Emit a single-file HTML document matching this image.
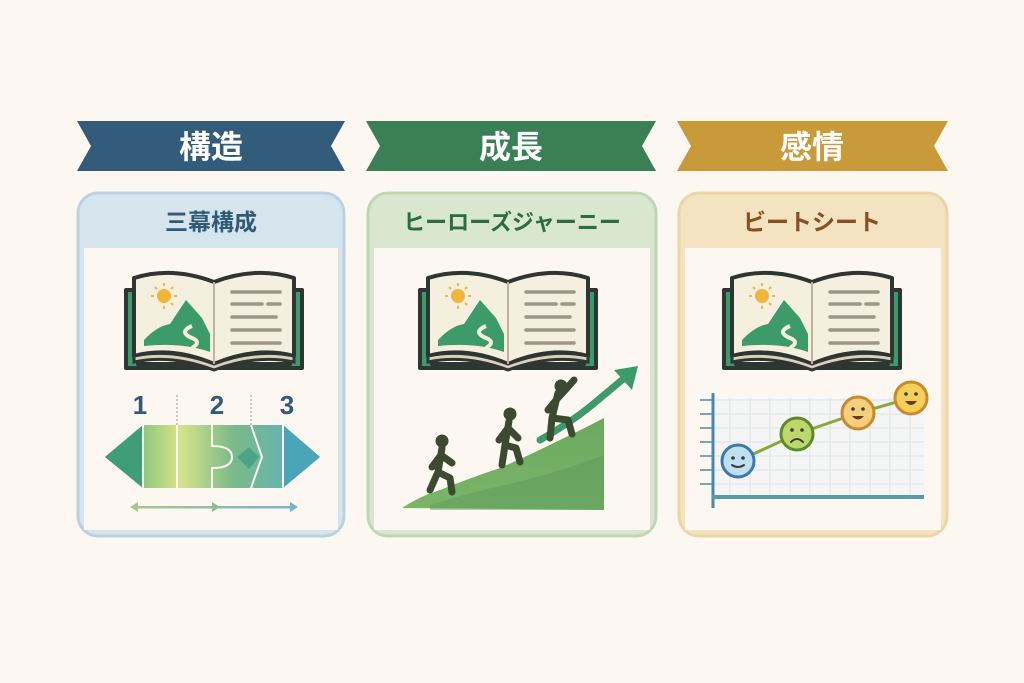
<!DOCTYPE html>
<html><head><meta charset="utf-8"><style>
html,body{margin:0;padding:0;background:#fcf8f1;}
svg{display:block}
text{font-family:"Liberation Sans","Noto Sans CJK JP",sans-serif;font-weight:bold}
</style></head><body>
<svg width="1024" height="683" viewBox="0 0 1024 683" xmlns="http://www.w3.org/2000/svg">
<defs>
<g id="book">
  <path d="M4 22 L16 22 L16 96 L168 96 L168 22 L180 22 L180 100 L4 100 Z" fill="#3d9a6a" stroke="#2e3532" stroke-width="4" stroke-linejoin="round"/>
  <path d="M12 10 Q50 -2 92 14 Q134 -2 172 10 L172 88 Q134 78 92 96 Q50 78 12 88 Z" fill="#f5efe0" stroke="#2e3532" stroke-width="4" stroke-linejoin="round"/>
  <path d="M12 88 Q50 80 92 96 Q134 80 172 88 L172 94 Q134 86 92 102 Q50 86 12 94 Z" fill="#d9d0bd" stroke="#2e3532" stroke-width="3"/>
  <line x1="92" y1="14" x2="92" y2="96" stroke="#bdb4a2" stroke-width="2"/>
  <circle cx="42" cy="28" r="7" fill="#f2b53a"/>
  <g stroke="#f2b53a" stroke-width="2"><line x1="42" y1="15" x2="42" y2="18"/><line x1="42" y1="38" x2="42" y2="41"/><line x1="29" y1="28" x2="32" y2="28"/><line x1="52" y1="28" x2="55" y2="28"/><line x1="33" y1="19" x2="35" y2="21"/><line x1="49" y1="35" x2="51" y2="37"/><line x1="51" y1="19" x2="49" y2="21"/></g>
  <path d="M22 72 Q35 58 48 56 L64 32 L80 50 L88 66 L88 84 Q60 74 22 78 Z" fill="#3d9a6a"/>
  <path d="M70 58 Q56 64 70 70 Q80 74 70 80" stroke="#f5efe0" stroke-width="4" fill="none"/>
  <g stroke="#9c968a" stroke-width="3.5" stroke-linecap="round"><line x1="110" y1="24" x2="158" y2="24"/><line x1="110" y1="36" x2="140" y2="36"/><line x1="146" y1="36" x2="158" y2="36"/><line x1="110" y1="49" x2="154" y2="49"/><line x1="110" y1="62" x2="158" y2="62"/><line x1="110" y1="75" x2="158" y2="75"/></g>
</g>
<linearGradient id="gb" x1="0" x2="1"><stop offset="0" stop-color="#4aa870"/><stop offset=".35" stop-color="#d6e48a"/><stop offset=".6" stop-color="#79b98a"/><stop offset="1" stop-color="#5ab0c8"/></linearGradient>
<linearGradient id="ga" gradientUnits="userSpaceOnUse" x1="130" y1="0" x2="298" y2="0"><stop offset="0" stop-color="#a8c78a"/><stop offset="1" stop-color="#7fb0cc"/></linearGradient>
<linearGradient id="gh" x1="0" y1="0" x2="0" y2="1"><stop offset="0" stop-color="#6aa85e"/><stop offset="1" stop-color="#7cb56a"/></linearGradient>
</defs>

<!-- banners -->
<path d="M77 121 L345 121 L331 146 L345 171 L77 171 L91 146 Z" fill="#335c7a"/>
<text x="211" y="158" font-size="32" fill="#fff" text-anchor="middle">構造</text>
<path d="M366 121 L656 121 L642 146 L656 171 L366 171 L380 146 Z" fill="#3b7f57"/>
<text x="511" y="158" font-size="32" fill="#fff" text-anchor="middle">成長</text>
<path d="M677 121 L948 121 L934 146 L948 171 L677 171 L691 146 Z" fill="#c99a3a"/>
<text x="812" y="158" font-size="32" fill="#fff" text-anchor="middle">感情</text>

<!-- cards -->
<rect x="78" y="193" width="266" height="343" rx="20" fill="#d5e4ed" stroke="#bad2e1" stroke-width="3"/>
<rect x="84" y="248" width="254" height="282" fill="#fcf8f1"/>
<text x="211" y="230" font-size="23" fill="#2f5a78" text-anchor="middle">三幕構成</text>

<rect x="368" y="193" width="288" height="343" rx="20" fill="#d9e7d0" stroke="#c0d7b6" stroke-width="3"/>
<rect x="374" y="248" width="276" height="282" fill="#fcf8f1"/>
<text x="512" y="230" font-size="22" fill="#2b6c45" text-anchor="middle">ヒーローズジャーニー</text>

<rect x="679" y="193" width="268" height="343" rx="20" fill="#f4e3c0" stroke="#ecd6a6" stroke-width="3"/>
<rect x="685" y="248" width="256" height="282" fill="#fcf8f1"/>
<text x="812" y="230" font-size="23" fill="#8a4f1e" text-anchor="middle">ビートシート</text>

<use href="#book" x="122" y="268"/>
<use href="#book" x="416" y="268"/>
<use href="#book" x="720" y="268"/>

<!-- card1 bar -->
<text x="140" y="414" font-size="26" fill="#2f5a78" text-anchor="middle">1</text>
<text x="217" y="414" font-size="26" fill="#2f5a78" text-anchor="middle">2</text>
<text x="287" y="414" font-size="26" fill="#2f5a78" text-anchor="middle">3</text>
<line x1="177" y1="395" x2="177" y2="425" stroke="#999" stroke-dasharray="2 2"/>
<line x1="251" y1="395" x2="251" y2="425" stroke="#999" stroke-dasharray="2 2"/>
<path d="M105 457 L143 425 L283 425 L320 457 L283 488 L143 488 Z" fill="url(#gb)"/>
<path d="M105 457 L143 425 L143 488 Z" fill="#3f9e77"/>
<path d="M283 425 L320 457 L283 488 Z" fill="#4aa5b8"/>
<g stroke="#fcf8f1" stroke-width="2" fill="none"><line x1="143" y1="425" x2="143" y2="488"/><line x1="177" y1="425" x2="177" y2="488"/><path d="M212 425 L212 446 Q232 446 232 457 Q232 468 212 468 L212 488"/><path d="M251 425 L262 457 L251 488"/><line x1="283" y1="425" x2="283" y2="488"/></g>
<path d="M237 457 L249 447 L259 457 L249 469 Z" fill="#4aa587"/>
<rect x="132" y="506" width="164" height="2.5" fill="url(#ga)"/>
<path d="M130 507 L138 502 L138 512 Z" fill="#a8c78a"/>
<path d="M220 507 L212 502 L212 512 Z" fill="#92bc96"/>
<path d="M298 507 L290 502 L290 512 Z" fill="#7fb0cc"/>

<!-- card2 hill -->
<path d="M402 508 Q420 496 440 490 Q470 478 500 468 Q530 455 560 440 Q585 428 604 418 L604 510 Z" fill="url(#gh)"/>
<path d="M430 505 Q470 492 510 484 Q560 472 604 455 L604 510 L430 510 Z" fill="#58975a" opacity=".45"/>
<path d="M540 440 Q575 420 598 400 L622 380" stroke="#3d9a6a" stroke-width="7" fill="none" stroke-linecap="round"/>
<path d="M614 370 L638 366 L632 390 Z" fill="#3d9a6a"/>
<g fill="#3d4a32" stroke="#3d4a32" stroke-linecap="round" stroke-linejoin="round">
  <circle cx="442" cy="441" r="6"/>
  <path d="M442 448 L438 472 L430 490 M438 472 L450 478 L452 492 M441 455 L452 463 M441 455 L432 467" stroke-width="7" fill="none"/>
  <circle cx="510" cy="414" r="6"/>
  <path d="M509 421 L505 445 L502 465 M505 445 L516 448 L520 462 M508 428 L518 438 M508 428 L499 440" stroke-width="7" fill="none"/>
  <circle cx="561" cy="386" r="6"/>
  <path d="M558 393 L552 418 L550 438 M552 418 L568 420 L572 434 M557 399 L567 388 L574 380 M557 399 L548 410" stroke-width="7" fill="none"/>
</g>

<!-- card3 chart -->
<rect x="712" y="398" width="212" height="98" fill="#eef4f6" opacity=".6"/>
<g stroke="#dde3e6" stroke-width="1">
  <line x1="712" y1="400" x2="924" y2="400"/><line x1="712" y1="414" x2="924" y2="414"/><line x1="712" y1="428" x2="924" y2="428"/><line x1="712" y1="442" x2="924" y2="442"/><line x1="712" y1="456" x2="924" y2="456"/><line x1="712" y1="470" x2="924" y2="470"/><line x1="712" y1="484" x2="924" y2="484"/>
  <line x1="730" y1="398" x2="730" y2="498"/><line x1="750" y1="398" x2="750" y2="498"/><line x1="770" y1="398" x2="770" y2="498"/><line x1="790" y1="398" x2="790" y2="498"/><line x1="810" y1="398" x2="810" y2="498"/><line x1="830" y1="398" x2="830" y2="498"/><line x1="850" y1="398" x2="850" y2="498"/><line x1="870" y1="398" x2="870" y2="498"/><line x1="890" y1="398" x2="890" y2="498"/><line x1="910" y1="398" x2="910" y2="498"/>
</g>
<g stroke="#4e86b0" stroke-width="1.5"><line x1="700" y1="400" x2="712" y2="400"/><line x1="700" y1="414" x2="712" y2="414"/><line x1="700" y1="428" x2="712" y2="428"/><line x1="700" y1="442" x2="712" y2="442"/><line x1="700" y1="456" x2="712" y2="456"/><line x1="700" y1="470" x2="712" y2="470"/><line x1="700" y1="484" x2="712" y2="484"/></g>
<line x1="713" y1="393" x2="713" y2="508" stroke="#4e86b0" stroke-width="3"/>
<line x1="712" y1="497" x2="924" y2="497" stroke="#5c9aa8" stroke-width="4"/>
<polyline points="738,461 797,434 858,413 911,398" stroke="#8aa838" stroke-width="3" fill="none"/>
<circle cx="738" cy="461" r="16" fill="#bfe1ef" stroke="#3d78b0" stroke-width="3"/>
<circle cx="797" cy="434" r="16" fill="#bcd86a" stroke="#5d8a2e" stroke-width="3"/>
<circle cx="858" cy="413" r="16" fill="#f6cf7c" stroke="#c78a2e" stroke-width="3"/>
<circle cx="911" cy="398" r="16" fill="#f6cf58" stroke="#c78a2e" stroke-width="3"/>
<g fill="#3c3c3c"><circle cx="733" cy="458" r="1.8"/><circle cx="743" cy="458" r="1.8"/><circle cx="792" cy="430" r="1.8"/><circle cx="802" cy="430" r="1.8"/><circle cx="853" cy="409" r="1.8"/><circle cx="863" cy="409" r="1.8"/><circle cx="906" cy="394" r="1.8"/><circle cx="916" cy="394" r="1.8"/></g>
<g stroke="#3c3c3c" stroke-width="2" fill="none" stroke-linecap="round"><path d="M732 465 Q738 469 744 465"/><path d="M791 442 Q797 436 803 442"/></g>
<path d="M852 416 Q858 423 864 416 Z" fill="#6a3a1a"/>
<path d="M905 401 Q911 409 917 401 Z" fill="#6a3a1a"/>
</svg>
</body></html>
